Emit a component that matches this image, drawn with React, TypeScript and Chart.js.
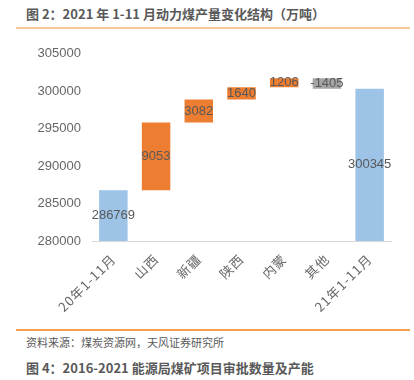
import React, { useEffect, useRef } from "react";
import { Chart, registerables } from "chart.js";

Chart.register(...registerables);

const categories = ["20年1-11月", "山西", "新疆", "陕西", "内蒙", "其他", "21年1-11月"];
const startTotal = 286769;
const deltas = [9053, 3082, 1640, 1206, -1405];
const endTotal = 300345;
const labelsText = ["286769", "9053", "3082", "1640", "1206", "-1405", "300345"];
const yTicks = [280000, 285000, 290000, 295000, 300000, 305000];

const BLUE = "#9DC3E6";
const ORANGE = "#ED7D31";
const GRAY = "#A5A5A5";
const TEXT = "#595959";
const FONT = "'Liberation Sans', Arial, 'Noto Sans CJK SC', sans-serif";
const CJK = "'Noto Sans CJK SC', 'Liberation Sans', sans-serif";

function buildRanges(): [number, number][] {
  const out: [number, number][] = [[yTicks[0], startTotal]];
  let cur = startTotal;
  for (const d of deltas) {
    out.push([cur, cur + d]);
    cur += d;
  }
  out.push([yTicks[0], endTotal]);
  return out;
}

export default function App() {
  const ref = useRef<HTMLCanvasElement | null>(null);
  useEffect(() => {
    if (!ref.current) return;
    const ranges = buildRanges();
    const colors = categories.map((_, i) =>
      i === 0 || i === categories.length - 1 ? BLUE : deltas[i - 1] < 0 ? GRAY : ORANGE
    );
    const spacingPlugin = {
      id: "xSpacing",
      afterLayout(chart: any) {
        const xs = chart.scales.x;
        if (!xs || xs.__wrapped) return;
        const orig = xs.drawLabels.bind(xs);
        xs.drawLabels = (area: any) => {
          const ctx = chart.ctx as any;
          const prev = ctx.letterSpacing;
          ctx.letterSpacing = "1px";
          orig(area);
          ctx.letterSpacing = prev || "0px";
        };
        xs.__wrapped = true;
      },
    };
    const labelPlugin = {
      id: "barLabels",
      afterDatasetsDraw(chart: any) {
        const ctx = chart.ctx;
        const meta = chart.getDatasetMeta(0);
        ctx.save();
        ctx.font = `13px ${FONT}`;
        ctx.fillStyle = TEXT;
        ctx.textAlign = "center";
        ctx.textBaseline = "middle";
        meta.data.forEach((bar: any, i: number) => {
          const y = (bar.y + bar.base) / 2;
          ctx.fillText(labelsText[i], bar.x, y);
        });
        ctx.restore();
      },
    };
    const chart = new Chart(ref.current, {
      type: "bar",
      data: {
        labels: categories,
        datasets: [
          {
            data: ranges as any,
            backgroundColor: colors,
            borderWidth: 0,
            barPercentage: 0.667,
            categoryPercentage: 1,
          },
        ],
      },
      options: {
        animation: false,
        responsive: false,
        maintainAspectRatio: false,
        layout: { padding: { top: 14, right: 19, left: 0, bottom: 0 } },
        plugins: { legend: { display: false }, tooltip: { enabled: false } },
        scales: {
          x: {
            grid: { display: false, drawTicks: false },
            border: { display: true, color: "#D9D9D9", width: 1 },
            ticks: {
              minRotation: 45,
              maxRotation: 45,
              color: "#666666",
              padding: 10,
              font: { size: 13, family: CJK },
            },
            afterFit: (s: any) => {
              s.height = 87;
            },
          },
          y: {
            min: 280000,
            max: 305000,
            grid: { display: false, drawTicks: false },
            border: { display: false },
            afterBuildTicks: (s: any) => {
              s.ticks = yTicks.map((v) => ({ value: v }));
            },
            ticks: {
              color: "#666666",
              padding: 11,
              font: { size: 13, family: FONT },
              callback: (v: any) => String(v),
            },
            afterFit: (s: any) => {
              s.width = 76;
            },
          },
        },
      },
      plugins: [spacingPlugin, labelPlugin],
    });
    return () => chart.destroy();
  }, []);

  return (
    <div style={{ position: "absolute", left: 0, top: 0, width: 414, height: 380, background: "#fff", overflow: "hidden" }}>
      <div
        style={{
          position: "absolute",
          left: 26,
          top: 6,
          fontFamily: CJK,
          fontWeight: 700,
          fontSize: 13,
          color: TEXT,
          whiteSpace: "nowrap",
          lineHeight: "16px",
        }}
      >
        图 2：2021 年 1-11 月动力煤产量变化结构（万吨）
      </div>
      <div style={{ position: "absolute", left: 16, top: 27, width: 394, height: 2, background: "#F8C89A" }} />
      <canvas ref={ref} width={394} height={293} style={{ position: "absolute", left: 16, top: 35, width: 394, height: 293 }} />
      <div style={{ position: "absolute", left: 16, top: 329, width: 394, height: 2, background: "#F5A04A" }} />
      <div
        style={{
          position: "absolute",
          left: 26,
          top: 334,
          fontFamily: CJK,
          fontSize: 11,
          color: TEXT,
          whiteSpace: "nowrap",
          lineHeight: "16px",
        }}
      >
        资料来源：煤炭资源网，天风证券研究所
      </div>
      <div
        style={{
          position: "absolute",
          left: 26,
          top: 360,
          fontFamily: CJK,
          fontWeight: 700,
          fontSize: 13,
          color: TEXT,
          whiteSpace: "nowrap",
          lineHeight: "16px",
        }}
      >
        图 4：2016-2021 能源局煤矿项目审批数量及产能
      </div>
    </div>
  );
}
